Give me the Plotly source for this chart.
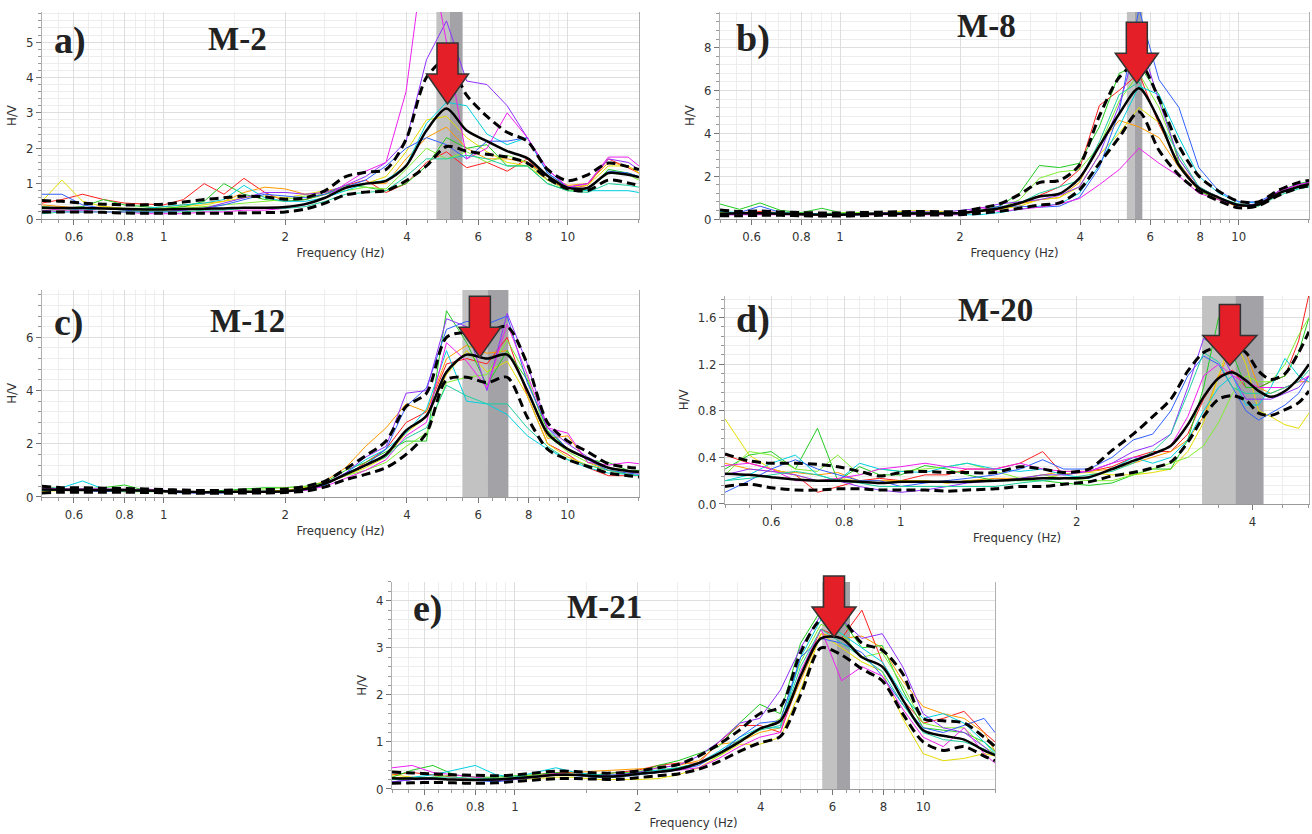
import math
import plotly.graph_objects as go

# ---------------- data ----------------
FREQ = [0.5, 0.56, 0.63, 0.71, 0.8, 0.9, 1.0, 1.12, 1.26, 1.41, 1.58, 1.78, 2.0, 2.24, 2.51, 2.82,
        3.16, 3.55, 3.98, 4.47, 5.01, 5.62, 6.31, 7.08, 7.94, 8.91, 10.0, 11.2, 12.6, 14.1, 15.0]
FREQ_D = [0.5, 0.55, 0.6, 0.66, 0.72, 0.78, 0.85, 0.92, 1.0, 1.1, 1.2, 1.3, 1.45, 1.6, 1.75, 1.9,
          2.1, 2.3, 2.5, 2.7, 2.9, 3.1, 3.3, 3.5, 3.7, 3.9, 4.1, 4.3, 4.55, 4.8, 5.0]

WINDOW_COLORS = ["#ff2020", "#ff9a00", "#e6dc00", "#22cc22", "#80ee30",
                 "#00d0e0", "#3060ff", "#9030ff", "#ee20ee", "#20d0a0"]

# ---- M-2 ----
A_MEAN = [0.32, 0.31, 0.31, 0.30, 0.28, 0.27, 0.27, 0.28, 0.29, 0.30, 0.32, 0.32, 0.34, 0.42, 0.60, 0.88,
          1.00, 1.08, 1.50, 2.50, 3.12, 2.50, 2.20, 1.92, 1.72, 1.22, 0.88, 0.88, 1.30, 1.25, 1.18]
A_UPPER = [0.52, 0.50, 0.45, 0.42, 0.40, 0.40, 0.42, 0.48, 0.55, 0.60, 0.65, 0.62, 0.56, 0.60, 0.80, 1.20,
           1.32, 1.40, 2.25, 4.00, 4.50, 3.50, 2.90, 2.45, 2.20, 1.40, 1.08, 1.25, 1.58, 1.48, 1.40]
A_LOWER = [0.20, 0.20, 0.20, 0.19, 0.17, 0.16, 0.16, 0.16, 0.16, 0.16, 0.17, 0.18, 0.20, 0.28, 0.45, 0.68,
           0.76, 0.80, 1.08, 1.50, 2.05, 1.92, 1.83, 1.75, 1.58, 1.15, 0.85, 0.80, 1.10, 1.02, 0.95]
A_WINDOWS = [
    [0.45, 0.55, 0.7, 0.55, 0.45, 0.42, 0.4, 0.55, 1.0, 0.7, 1.15, 0.75, 0.5, 0.55, 0.7, 0.95, 1.1, 0.75, 1.0, 1.6, 1.9, 1.45, 1.6, 1.35, 1.7, 1.1, 0.85, 0.95, 1.7, 1.45, 1.3],
    [0.4, 0.35, 0.3, 0.35, 0.3, 0.3, 0.35, 0.4, 0.45, 0.5, 0.75, 0.9, 0.85, 0.7, 0.75, 0.9, 1.0, 1.0, 1.7, 2.3, 2.6, 2.0, 1.7, 1.7, 1.6, 1.2, 0.95, 1.0, 1.6, 1.5, 1.3],
    [0.5, 1.1, 0.5, 0.35, 0.3, 0.3, 0.3, 0.35, 0.4, 0.5, 0.6, 0.65, 0.6, 0.7, 0.8, 0.9, 1.0, 1.2, 1.9, 2.8, 2.9, 2.3, 1.9, 1.6, 1.5, 1.1, 0.9, 0.95, 1.5, 1.5, 1.3],
    [0.35, 0.3, 0.35, 0.55, 0.4, 0.35, 0.3, 0.35, 0.5, 1.0, 0.7, 0.55, 0.5, 0.55, 0.7, 0.95, 0.9, 0.8, 1.0, 1.5, 2.3, 2.0, 2.1, 1.5, 1.5, 1.0, 0.8, 0.8, 1.4, 1.3, 1.2],
    [0.25, 0.25, 0.3, 0.3, 0.25, 0.25, 0.25, 0.3, 0.35, 0.4, 0.45, 0.5, 0.55, 0.65, 0.7, 0.8, 0.9, 0.85, 1.4, 2.0, 1.7, 1.9, 1.6, 1.8, 1.6, 1.1, 0.8, 0.85, 1.3, 1.25, 1.1],
    [0.3, 0.3, 0.25, 0.3, 0.3, 0.3, 0.35, 0.4, 0.45, 0.55, 0.95, 0.6, 0.5, 0.5, 0.6, 0.8, 1.0, 1.1, 1.5, 2.7, 3.3, 3.2, 2.4, 2.1, 2.3, 1.3, 0.9, 0.8, 0.8, 0.8, 0.75],
    [0.7, 0.7, 0.4, 0.3, 0.25, 0.2, 0.2, 0.25, 0.3, 0.4, 0.55, 0.7, 0.65, 0.6, 0.7, 0.9, 1.1, 1.5, 2.0, 2.3, 2.1, 1.7, 2.2, 2.2, 2.3, 1.3, 0.9, 0.85, 1.35, 1.3, 1.2],
    [0.25, 0.2, 0.2, 0.2, 0.2, 0.2, 0.2, 0.25, 0.3, 0.45, 0.6, 0.75, 0.75, 0.7, 0.75, 0.95, 1.2, 1.6, 2.2, 4.5, 5.6, 3.9, 3.8, 3.2, 2.3, 1.4, 0.9, 1.0, 1.7, 1.6, 1.4],
    [0.3, 0.25, 0.25, 0.2, 0.2, 0.15, 0.15, 0.15, 0.2, 0.2, 0.25, 0.25, 0.3, 0.4, 0.6, 1.0, 1.35, 1.6, 3.6, 8.0, 5.0, 1.7, 2.0, 3.0, 2.3, 1.4, 0.9, 1.0, 1.75, 1.75, 1.5],
    [0.15, 0.2, 0.2, 0.2, 0.2, 0.2, 0.2, 0.2, 0.25, 0.25, 0.3, 0.3, 0.3, 0.35, 0.5, 0.7, 0.75, 0.8, 1.2, 1.7, 1.7, 1.8, 1.7, 1.5, 1.5, 1.0, 0.8, 0.75, 1.0, 0.95, 0.9],
]

# ---- M-8 ----
B_MEAN = [0.25, 0.27, 0.27, 0.25, 0.22, 0.20, 0.20, 0.22, 0.24, 0.25, 0.26, 0.26, 0.28, 0.38, 0.50, 0.75,
          1.05, 1.18, 1.90, 3.40, 4.90, 6.10, 4.60, 2.50, 1.45, 1.00, 0.65, 0.68, 1.20, 1.50, 1.62]
B_UPPER = [0.42, 0.35, 0.38, 0.33, 0.30, 0.28, 0.28, 0.30, 0.32, 0.34, 0.35, 0.34, 0.35, 0.50, 0.70, 1.15,
           1.70, 1.80, 2.50, 4.80, 6.60, 7.30, 5.60, 3.40, 2.00, 1.30, 0.82, 0.80, 1.35, 1.70, 1.80]
B_LOWER = [0.15, 0.15, 0.17, 0.17, 0.15, 0.14, 0.14, 0.15, 0.17, 0.18, 0.18, 0.19, 0.20, 0.27, 0.36, 0.50,
           0.65, 0.75, 1.35, 2.60, 3.80, 5.00, 3.20, 2.05, 1.30, 0.85, 0.52, 0.62, 1.10, 1.45, 1.55]
B_WINDOWS = [
    [0.3, 0.3, 0.35, 0.3, 0.25, 0.25, 0.2, 0.25, 0.3, 0.3, 0.3, 0.3, 0.3, 0.35, 0.45, 0.7, 1.1, 1.5, 2.3, 5.3, 6.0, 6.8, 4.4, 2.6, 1.4, 0.9, 0.6, 0.65, 1.3, 1.6, 1.7],
    [0.25, 0.3, 0.3, 0.25, 0.2, 0.2, 0.2, 0.2, 0.25, 0.3, 0.3, 0.25, 0.25, 0.35, 0.5, 0.7, 0.9, 1.0, 1.7, 3.5, 4.6, 4.3, 3.8, 2.4, 1.3, 0.9, 0.55, 0.7, 1.2, 1.5, 1.6],
    [0.2, 0.25, 0.25, 0.25, 0.2, 0.2, 0.25, 0.3, 0.3, 0.35, 0.4, 0.35, 0.3, 0.35, 0.45, 0.6, 0.9, 1.0, 1.5, 3.0, 4.0, 5.2, 4.5, 2.4, 1.4, 1.0, 0.6, 0.65, 1.25, 1.55, 1.65],
    [0.7, 0.45, 0.75, 0.4, 0.3, 0.5, 0.3, 0.3, 0.3, 0.3, 0.3, 0.3, 0.3, 0.4, 0.6, 1.2, 2.5, 2.4, 2.6, 4.3, 6.8, 7.2, 5.8, 2.6, 1.3, 0.9, 0.6, 0.7, 1.3, 1.65, 1.75],
    [0.3, 0.3, 0.3, 0.3, 0.25, 0.25, 0.3, 0.3, 0.3, 0.3, 0.3, 0.3, 0.3, 0.35, 0.5, 0.9, 1.9, 2.2, 2.3, 3.4, 5.5, 6.8, 5.2, 2.8, 1.5, 1.0, 0.6, 0.6, 1.2, 1.5, 1.6],
    [0.35, 0.3, 0.3, 0.3, 0.25, 0.25, 0.2, 0.2, 0.25, 0.25, 0.25, 0.25, 0.2, 0.2, 0.3, 0.45, 0.6, 0.7, 1.2, 2.5, 4.3, 6.2, 5.8, 3.8, 2.0, 1.2, 0.8, 0.75, 1.2, 1.45, 1.5],
    [0.25, 0.3, 0.6, 0.3, 0.2, 0.2, 0.2, 0.2, 0.25, 0.25, 0.25, 0.25, 0.25, 0.35, 0.6, 0.6, 0.55, 0.6, 1.0, 2.4, 5.0, 9.8, 6.5, 5.2, 2.4, 1.3, 0.8, 0.8, 1.3, 1.6, 1.7],
    [0.2, 0.2, 0.25, 0.25, 0.2, 0.2, 0.2, 0.25, 0.3, 0.3, 0.35, 0.3, 0.4, 0.5, 0.7, 0.8, 0.9, 1.1, 1.5, 3.0, 5.3, 8.5, 5.5, 2.8, 1.5, 1.0, 0.65, 0.7, 1.3, 1.6, 1.7],
    [0.2, 0.2, 0.2, 0.2, 0.2, 0.2, 0.2, 0.2, 0.2, 0.2, 0.2, 0.2, 0.2, 0.55, 0.35, 0.45, 0.55, 0.7, 0.95, 1.6, 2.3, 3.3, 2.6, 2.0, 1.2, 0.9, 0.6, 0.65, 1.3, 1.6, 1.7],
    [0.25, 0.25, 0.3, 0.25, 0.25, 0.2, 0.25, 0.25, 0.25, 0.3, 0.3, 0.3, 0.3, 0.35, 0.5, 0.75, 1.2, 1.5, 1.8, 3.6, 5.8, 6.4, 4.6, 3.0, 1.5, 1.0, 0.7, 0.6, 1.1, 1.4, 1.5],
]

# ---- M-12 ----
C_MEAN = [0.28, 0.27, 0.26, 0.25, 0.25, 0.24, 0.22, 0.20, 0.18, 0.19, 0.20, 0.20, 0.22, 0.30, 0.50, 0.85,
          1.20, 1.60, 2.50, 3.05, 4.70, 5.35, 5.20, 5.35, 4.00, 2.40, 1.80, 1.45, 1.10, 0.98, 0.95]
C_UPPER = [0.40, 0.35, 0.35, 0.33, 0.32, 0.30, 0.28, 0.26, 0.24, 0.25, 0.27, 0.28, 0.30, 0.40, 0.60, 1.05,
           1.55, 2.10, 3.40, 3.90, 6.00, 6.20, 6.20, 6.40, 5.00, 2.80, 2.10, 1.70, 1.25, 1.12, 1.08]
C_LOWER = [0.15, 0.18, 0.18, 0.18, 0.18, 0.17, 0.16, 0.15, 0.14, 0.14, 0.15, 0.15, 0.17, 0.22, 0.38, 0.65,
           0.85, 1.10, 1.60, 2.40, 4.40, 4.50, 4.30, 4.50, 3.00, 1.80, 1.40, 1.15, 0.90, 0.80, 0.75]
C_WINDOWS = [
    [0.3, 0.3, 0.25, 0.25, 0.25, 0.25, 0.2, 0.2, 0.15, 0.2, 0.2, 0.2, 0.2, 0.3, 0.5, 0.8, 1.3, 1.8, 2.8, 3.2, 5.0, 5.2, 5.0, 6.0, 3.8, 2.0, 1.6, 1.1, 0.8, 0.8, 0.8],
    [0.35, 0.3, 0.3, 0.3, 0.3, 0.25, 0.2, 0.2, 0.2, 0.2, 0.2, 0.2, 0.25, 0.35, 0.6, 1.1, 1.9, 2.6, 3.5, 3.2, 5.2, 5.7, 5.4, 5.5, 4.0, 2.2, 2.3, 1.3, 1.0, 0.9, 0.9],
    [0.2, 0.25, 0.25, 0.25, 0.2, 0.2, 0.2, 0.2, 0.2, 0.2, 0.2, 0.2, 0.25, 0.35, 0.5, 0.8, 1.1, 1.5, 2.4, 3.0, 4.6, 5.5, 4.7, 5.1, 3.8, 2.0, 1.5, 1.2, 1.0, 0.85, 0.8],
    [0.4, 0.3, 0.3, 0.35, 0.45, 0.25, 0.2, 0.2, 0.2, 0.25, 0.3, 0.35, 0.35, 0.4, 0.55, 1.0, 1.3, 1.7, 2.1, 2.1, 7.0, 5.8, 4.2, 5.5, 4.4, 2.5, 1.8, 1.4, 1.3, 1.0, 1.0],
    [0.3, 0.3, 0.3, 0.3, 0.3, 0.25, 0.2, 0.2, 0.2, 0.2, 0.25, 0.3, 0.35, 0.4, 0.5, 0.8, 1.0, 1.3, 1.9, 2.4, 4.3, 4.5, 4.6, 5.9, 4.5, 2.3, 1.7, 1.3, 1.1, 1.0, 0.95],
    [0.3, 0.35, 0.6, 0.3, 0.25, 0.3, 0.25, 0.2, 0.2, 0.2, 0.2, 0.2, 0.2, 0.3, 0.45, 0.9, 1.4, 1.8, 2.4, 3.3, 5.5, 3.6, 3.5, 3.1, 2.3, 1.8, 1.4, 1.1, 0.9, 0.85, 0.8],
    [0.25, 0.25, 0.25, 0.2, 0.25, 0.25, 0.2, 0.15, 0.15, 0.15, 0.2, 0.2, 0.2, 0.25, 0.45, 0.9, 1.2, 1.8, 3.4, 4.1, 6.3, 6.6, 6.5, 6.8, 4.3, 2.6, 1.8, 1.4, 1.0, 0.9, 0.85],
    [0.3, 0.3, 0.3, 0.3, 0.3, 0.25, 0.25, 0.2, 0.2, 0.2, 0.2, 0.2, 0.2, 0.3, 0.5, 0.9, 1.5, 1.9, 3.9, 4.0, 6.7, 6.4, 4.0, 6.9, 5.0, 2.6, 2.0, 1.5, 1.1, 0.95, 0.9],
    [0.35, 0.3, 0.3, 0.3, 0.25, 0.3, 0.25, 0.2, 0.2, 0.2, 0.2, 0.2, 0.2, 0.25, 0.4, 0.7, 1.0, 1.4, 2.3, 2.8, 5.8, 5.1, 4.1, 6.5, 4.6, 2.6, 2.4, 1.3, 1.2, 1.3, 1.25],
    [0.25, 0.25, 0.25, 0.25, 0.2, 0.2, 0.2, 0.2, 0.2, 0.2, 0.2, 0.2, 0.2, 0.3, 0.5, 0.85, 1.2, 1.5, 2.2, 2.6, 4.2, 3.8, 3.5, 3.5, 2.6, 1.9, 1.4, 1.2, 1.0, 0.85, 0.8],
]

# ---- M-20 ----
D_MEAN = [0.26, 0.25, 0.23, 0.21, 0.20, 0.20, 0.19, 0.18, 0.19, 0.19, 0.19, 0.19, 0.20, 0.21, 0.22, 0.22,
          0.23, 0.30, 0.37, 0.43, 0.50, 0.68, 0.92, 1.08, 1.13, 1.06, 0.97, 0.92, 0.97, 1.08, 1.20]
D_UPPER = [0.43, 0.37, 0.35, 0.35, 0.34, 0.32, 0.28, 0.24, 0.27, 0.28, 0.27, 0.27, 0.27, 0.32, 0.30, 0.27,
           0.30, 0.46, 0.60, 0.75, 0.90, 1.14, 1.30, 1.35, 1.36, 1.30, 1.14, 1.07, 1.12, 1.30, 1.48]
D_LOWER = [0.15, 0.17, 0.14, 0.12, 0.12, 0.13, 0.13, 0.12, 0.12, 0.12, 0.11, 0.12, 0.13, 0.15, 0.15, 0.17,
           0.19, 0.24, 0.27, 0.31, 0.36, 0.53, 0.75, 0.90, 0.93, 0.89, 0.78, 0.76, 0.81, 0.87, 0.97]
D_WINDOWS = [
    [0.42, 0.35, 0.3, 0.25, 0.1, 0.15, 0.2, 0.22, 0.2, 0.25, 0.25, 0.3, 0.3, 0.35, 0.45, 0.25, 0.28, 0.32, 0.4, 0.45, 0.45, 0.6, 0.9, 1.1, 1.15, 1.0, 1.0, 1.05, 1.1, 1.4, 1.8],
    [0.35, 0.3, 0.28, 0.27, 0.25, 0.27, 0.2, 0.2, 0.2, 0.2, 0.18, 0.2, 0.22, 0.22, 0.25, 0.28, 0.28, 0.3, 0.35, 0.4, 0.45, 0.55, 0.75, 1.1, 1.35, 1.3, 1.0, 0.95, 1.0, 1.05, 1.05],
    [0.73, 0.42, 0.3, 0.25, 0.2, 0.22, 0.2, 0.18, 0.2, 0.2, 0.18, 0.2, 0.2, 0.22, 0.22, 0.26, 0.27, 0.25, 0.25, 0.27, 0.3, 0.45, 0.7, 1.1, 1.45, 1.2, 0.8, 0.75, 0.68, 0.65, 0.78],
    [0.3, 0.42, 0.45, 0.3, 0.65, 0.2, 0.32, 0.25, 0.25, 0.33, 0.3, 0.25, 0.2, 0.2, 0.2, 0.18, 0.16, 0.18, 0.25, 0.3, 0.3, 0.55, 1.0, 1.6, 1.3, 1.0, 1.0, 1.05, 1.1, 1.3, 1.6],
    [0.25, 0.45, 0.42, 0.3, 0.28, 0.42, 0.25, 0.3, 0.28, 0.3, 0.32, 0.35, 0.28, 0.22, 0.25, 0.22, 0.2, 0.2, 0.25, 0.3, 0.35, 0.4, 0.5, 0.7, 0.95, 1.1, 1.05, 1.05, 1.2, 1.45, 1.6],
    [0.2, 0.25, 0.35, 0.42, 0.25, 0.2, 0.35, 0.3, 0.28, 0.27, 0.32, 0.35, 0.3, 0.28, 0.3, 0.25, 0.22, 0.3, 0.4, 0.35, 0.4, 0.55, 0.8, 1.0, 1.1, 0.85, 0.85, 1.0, 1.25, 1.1, 1.05],
    [0.1, 0.2, 0.3, 0.38, 0.3, 0.25, 0.2, 0.2, 0.15, 0.18, 0.2, 0.22, 0.25, 0.3, 0.38, 0.3, 0.3, 0.4, 0.55, 0.6, 0.8, 1.1, 1.27, 1.2, 1.0, 0.8, 0.72, 0.78, 0.85, 0.95, 1.1],
    [0.25, 0.3, 0.28, 0.25, 0.2, 0.2, 0.15, 0.12, 0.1, 0.12, 0.15, 0.18, 0.2, 0.22, 0.25, 0.25, 0.28, 0.35, 0.45, 0.5, 0.6, 1.0, 1.42, 1.35, 1.1, 0.9, 0.9, 0.9, 0.95, 1.0, 1.1],
    [0.33, 0.35, 0.3, 0.2, 0.2, 0.22, 0.25, 0.3, 0.32, 0.35, 0.32, 0.3, 0.3, 0.35, 0.3, 0.28, 0.28, 0.35, 0.4, 0.42, 0.5, 0.75, 1.1, 1.2, 1.1, 1.05, 1.0, 1.0, 1.0, 1.05, 1.1],
    [0.2, 0.22, 0.25, 0.28, 0.25, 0.2, 0.18, 0.15, 0.15, 0.15, 0.15, 0.15, 0.15, 0.18, 0.2, 0.22, 0.25, 0.28, 0.35, 0.45, 0.6, 0.95, 1.3, 1.22, 1.0, 0.95, 0.95, 0.95, 1.0, 1.05, 1.15],
]

# ---- M-21 ----
E_MEAN = [0.23, 0.22, 0.22, 0.20, 0.19, 0.20, 0.23, 0.26, 0.30, 0.30, 0.27, 0.27, 0.32, 0.36, 0.42, 0.55,
          0.75, 1.00, 1.28, 1.45, 2.40, 3.20, 3.20, 2.80, 2.60, 1.90, 1.25, 1.13, 1.05, 0.82, 0.72]
E_UPPER = [0.36, 0.34, 0.32, 0.30, 0.29, 0.28, 0.30, 0.34, 0.38, 0.37, 0.34, 0.34, 0.38, 0.45, 0.52, 0.70,
           0.95, 1.25, 1.60, 1.75, 2.90, 3.60, 3.60, 3.10, 2.95, 2.45, 1.50, 1.45, 1.40, 1.10, 0.90]
E_LOWER = [0.12, 0.13, 0.14, 0.13, 0.12, 0.13, 0.16, 0.19, 0.22, 0.22, 0.21, 0.20, 0.24, 0.28, 0.32, 0.42,
           0.58, 0.80, 0.98, 1.12, 2.00, 3.00, 2.85, 2.55, 2.30, 1.60, 1.00, 0.82, 0.90, 0.70, 0.60]
E_WINDOWS = [
    [0.3, 0.35, 0.3, 0.25, 0.2, 0.2, 0.25, 0.3, 0.35, 0.35, 0.3, 0.35, 0.4, 0.5, 0.55, 0.55, 1.0, 1.35, 1.35, 1.2, 2.4, 3.4, 3.2, 3.8, 2.7, 1.9, 1.4, 1.5, 1.65, 1.2, 1.0],
    [0.25, 0.22, 0.2, 0.2, 0.2, 0.22, 0.25, 0.3, 0.32, 0.35, 0.38, 0.4, 0.42, 0.45, 0.5, 0.6, 0.95, 1.0, 1.2, 1.3, 2.3, 3.3, 3.2, 3.25, 3.0, 2.3, 1.75, 1.6, 1.5, 1.2, 0.8],
    [0.3, 0.25, 0.2, 0.2, 0.18, 0.2, 0.2, 0.22, 0.25, 0.25, 0.2, 0.2, 0.2, 0.22, 0.3, 0.45, 0.7, 0.95, 0.95, 1.1, 2.1, 3.3, 3.0, 2.7, 2.5, 1.5, 0.75, 0.6, 0.65, 0.75, 0.7],
    [0.25, 0.4, 0.5, 0.3, 0.25, 0.25, 0.28, 0.3, 0.35, 0.3, 0.3, 0.35, 0.35, 0.5, 0.6, 0.75, 0.9, 1.4, 1.8, 1.6, 3.1, 3.8, 3.6, 3.0, 3.05, 2.1, 1.3, 1.25, 1.2, 1.0, 0.8],
    [0.2, 0.2, 0.25, 0.3, 0.25, 0.2, 0.25, 0.3, 0.3, 0.3, 0.28, 0.3, 0.38, 0.4, 0.45, 0.55, 0.7, 1.0, 1.25, 1.5, 2.7, 3.5, 3.3, 2.8, 2.9, 2.2, 1.4, 1.3, 1.3, 0.9, 0.75],
    [0.2, 0.25, 0.3, 0.4, 0.5, 0.3, 0.25, 0.35, 0.45, 0.35, 0.3, 0.3, 0.35, 0.4, 0.45, 0.55, 0.8, 1.1, 1.3, 1.3, 2.8, 3.6, 3.3, 3.0, 2.7, 2.0, 1.5, 1.6, 1.4, 1.0, 0.75],
    [0.15, 0.2, 0.2, 0.2, 0.18, 0.15, 0.2, 0.25, 0.3, 0.28, 0.25, 0.25, 0.3, 0.35, 0.4, 0.5, 0.75, 1.1, 1.4, 1.45, 2.8, 3.2, 3.1, 2.9, 2.4, 1.8, 1.3, 1.2, 1.35, 1.5, 1.2],
    [0.15, 0.2, 0.2, 0.2, 0.18, 0.18, 0.2, 0.25, 0.3, 0.3, 0.28, 0.3, 0.35, 0.45, 0.5, 0.7, 1.0, 1.4, 1.5, 2.1, 3.0, 3.7, 3.6, 3.2, 3.3, 2.6, 1.6, 1.3, 1.2, 0.9, 0.7],
    [0.45, 0.5, 0.35, 0.3, 0.25, 0.2, 0.22, 0.28, 0.33, 0.3, 0.25, 0.25, 0.3, 0.35, 0.4, 0.45, 0.65, 0.9, 1.1, 1.2, 2.5, 3.4, 2.3, 2.6, 2.4, 1.7, 1.1, 0.9, 1.3, 0.75, 0.55],
    [0.2, 0.22, 0.25, 0.25, 0.22, 0.22, 0.25, 0.28, 0.3, 0.3, 0.25, 0.25, 0.3, 0.35, 0.45, 0.55, 0.75, 1.05, 1.25, 1.35, 2.6, 3.4, 3.1, 2.8, 2.5, 1.8, 1.2, 1.05, 1.0, 0.85, 0.7],
]

PANEL_TAGS = ["a)", "b)", "c)", "d)", "e)"]
SITES = ["M-2", "M-8", "M-12", "M-20", "M-21"]
F0_LOW = [4.73, 5.24, 5.49, 3.28, 5.66]     # f0 - sigma
F0 = [5.11, 5.48, 6.33, 3.74, 6.15]         # f0
F0_HIGH = [5.49, 5.73, 7.13, 4.18, 6.62]    # f0 + sigma
ARROW_F = [5.04, 5.55, 6.06, 3.66, 6.05]
ARROW_HV = [3.25, 6.34, 5.25, 1.19, 3.23]
F_RANGES = [(0.5, 15), (0.5, 15), (0.5, 15), (0.5, 5), (0.5, 15)]
Y_MAX = [5.85, 9.66, 7.78, 1.786, 4.40]
Y_DTICK = [1, 2, 2, 0.4, 1]
Y_MINOR = [0.2, 0.4, 0.4, 0.08, 0.2]
X_TICKS = [0.6, 0.8, 1, 2, 4, 6, 8, 10]
X_TICKTEXT = ["0.6", "0.8", "1", "2", "4", "6", "8", "10"]
X_MINOR = [0.5, 0.55, 0.65, 0.7, 0.75, 0.85, 0.9, 0.95, 1.5, 2.5, 3, 3.5, 4.5, 5, 5.5,
           6.5, 7, 7.5, 8.5, 9, 9.5, 15]

# ---------------- layout geometry ----------------
DOM_X = [(0.032, 0.487), (0.5488, 0.9977), (0.032, 0.487), (0.5526, 0.9977), (0.2988, 0.7584)]
DOM_Y = [(0.7374, 0.9856), (0.7374, 0.9856), (0.4041, 0.6523), (0.3957, 0.6451), (0.054, 0.3022)]
TAG_POS = [(0.047, 0.86), (0.056, 0.874), (0.045, 0.845), (0.048, 0.885), (0.06, 0.874)]
SITE_POS = [(0.328, 0.87), (0.453, 0.932), (0.345, 0.85), (0.464, 0.933), (0.353, 0.879)]
HEAD_HALF = [21, 21.5, 21, 27, 22]

panels = [
    dict(freq=FREQ, mean=A_MEAN, up=A_UPPER, lo=A_LOWER, win=A_WINDOWS),
    dict(freq=FREQ, mean=B_MEAN, up=B_UPPER, lo=B_LOWER, win=B_WINDOWS),
    dict(freq=FREQ, mean=C_MEAN, up=C_UPPER, lo=C_LOWER, win=C_WINDOWS),
    dict(freq=FREQ_D, mean=D_MEAN, up=D_UPPER, lo=D_LOWER, win=D_WINDOWS),
    dict(freq=FREQ, mean=E_MEAN, up=E_UPPER, lo=E_LOWER, win=E_WINDOWS),
]

AX_FONT = dict(family="DejaVu Sans Condensed, Liberation Sans, sans-serif", size=13, color="#333333")
fig = go.Figure()
shapes, annotations = [], []

for i, p in enumerate(panels):
    sfx = "" if i == 0 else str(i + 1)
    xa, ya = "x" + sfx, "y" + sfx
    n = len(p["freq"])
    for row in [p["mean"], p["up"], p["lo"]] + p["win"]:
        assert len(row) == n, (i, len(row))

    # f0 - sigma .. f0 .. f0 + sigma bands (drawn as filled traces beneath the curves)
    for (x0, x1, col) in ((F0_LOW[i], F0[i], "#c2c2c2"), (F0[i], F0_HIGH[i], "#a2a2a7")):
        fig.add_trace(go.Scatter(x=[x0, x0, x1, x1, x0], y=[0, Y_MAX[i], Y_MAX[i], 0, 0],
                                 mode="lines", fill="toself", fillcolor=col, line=dict(width=0, color=col),
                                 xaxis=xa, yaxis=ya, showlegend=False, hoverinfo="skip"))

    for color, w in zip(WINDOW_COLORS, p["win"]):
        fig.add_trace(go.Scatter(x=p["freq"], y=w, mode="lines", xaxis=xa, yaxis=ya,
                                 line=dict(color=color, width=1), showlegend=False, hoverinfo="skip"))
    for s in (p["up"], p["lo"]):
        fig.add_trace(go.Scatter(x=p["freq"], y=s, mode="lines", xaxis=xa, yaxis=ya,
                                 line=dict(color="black", width=3, dash="9px,5px", shape="spline", smoothing=0.8),
                                 showlegend=False, hoverinfo="skip"))
    fig.add_trace(go.Scatter(x=p["freq"], y=p["mean"], mode="lines", xaxis=xa, yaxis=ya,
                             line=dict(color="black", width=2.5, shape="spline", smoothing=0.8),
                             showlegend=False, hoverinfo="skip"))

    fmin, fmax = F_RANGES[i]
    ticks = [t for t in X_TICKS if t <= fmax]
    ttext = [X_TICKTEXT[k] for k, t in enumerate(X_TICKS) if t <= fmax]
    minor = [t for t in X_MINOR if fmin <= t <= fmax]
    fig.layout["xaxis" + sfx] = dict(
        type="log", domain=list(DOM_X[i]), anchor=ya, range=[math.log10(fmin), math.log10(fmax)],
        tickmode="array", tickvals=ticks, ticktext=ttext, tickfont=AX_FONT,
        showgrid=True, gridcolor="#dedede", gridwidth=1,
        ticks="outside", ticklen=5, tickcolor="#777777",
        showline=True, linecolor="#9a9a9a", linewidth=1, zeroline=False,
        minor=dict(tickvals=minor, showgrid=True, gridcolor="#ededed", ticks="outside",
                   ticklen=3, tickcolor="#999999"),
        title=dict(text="Frequency (Hz)", font=AX_FONT, standoff=5),
        automargin=False, fixedrange=True)
    fig.layout["yaxis" + sfx] = dict(
        domain=list(DOM_Y[i]), anchor=xa, range=[0, Y_MAX[i]], dtick=Y_DTICK[i], tick0=0,
        tickformat=".1f" if Y_DTICK[i] < 1 else "d", tickfont=AX_FONT,
        showgrid=True, gridcolor="#dedede", gridwidth=1,
        ticks="outside", ticklen=5, tickcolor="#777777",
        showline=True, linecolor="#b0b0b0", linewidth=1, mirror=True, zeroline=False,
        minor=dict(dtick=Y_MINOR[i], showgrid=True, gridcolor="#ededed", ticks="outside",
                   ticklen=3, tickcolor="#999999"),
        title=dict(text="H/V", font=AX_FONT, standoff=6),
        automargin=False, fixedrange=True)

    # red arrow pointing at the peak (pixel-sized, anchored at the data point);
    # vertical anchor expressed on the paper so the arrow may rise above the frame
    y_lo, y_hi = DOM_Y[i]
    y_anchor = y_lo + ARROW_HV[i] / Y_MAX[i] * (y_hi - y_lo)
    hh = HEAD_HALF[i]
    path = f"M 0 0 L {-hh} 30 L -10.5 30 L -10.5 61 L 10.5 61 L 10.5 30 L {hh} 30 Z"
    shapes.append(dict(type="path", xref=xa, yref="paper", xsizemode="pixel", ysizemode="pixel",
                       xanchor=ARROW_F[i], yanchor=y_anchor, path=path,
                       fillcolor="#e51f27", line=dict(color="#333333", width=1.5), layer="above"))

    tx, ty = TAG_POS[i]
    annotations.append(dict(text="<b>" + PANEL_TAGS[i] + "</b>", xref=xa + " domain", yref=ya + " domain",
                            x=tx, y=ty, xanchor="center", yanchor="middle", showarrow=False,
                            font=dict(family="Liberation Serif, Times New Roman, serif", size=38, color="#222222")))
    sx, sy = SITE_POS[i]
    annotations.append(dict(text="<b>" + SITES[i] + "</b>", xref=xa + " domain", yref=ya + " domain",
                            x=sx, y=sy, xanchor="center", yanchor="middle", showarrow=False,
                            font=dict(family="Liberation Serif, Times New Roman, serif", size=33, color="#222222")))

fig.update_layout(
    width=1312, height=834, margin=dict(l=0, r=0, t=0, b=0),
    paper_bgcolor="white", plot_bgcolor="white", template="none",
    showlegend=False, shapes=shapes, annotations=annotations,
)

fig.write_html("out.html")
